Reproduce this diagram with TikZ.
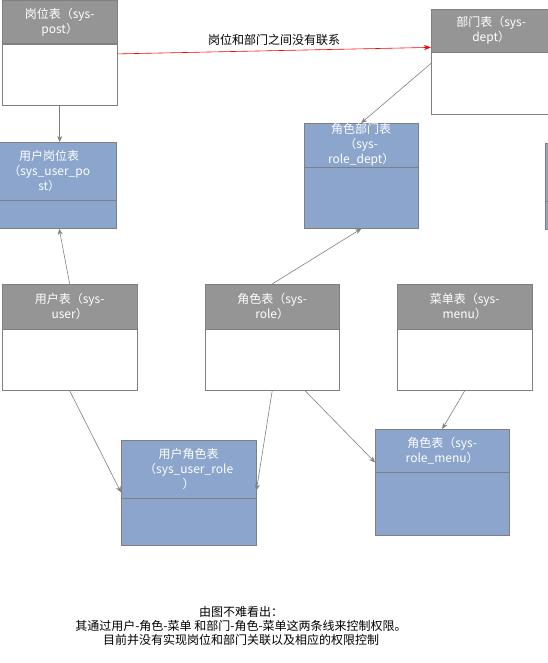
\documentclass[tikz,border=0pt]{standalone}
\usepackage{fontspec}
\newfontfamily\cjk{Noto Sans CJK SC}
\usetikzlibrary{arrows.meta,positioning,calc}
\definecolor{LineGray}{HTML}{808080}
\definecolor{HeadGray}{HTML}{959595}
\definecolor{LinkBlue}{HTML}{8BA5CC}
\tikzset{
  tblhead/.style={draw=LineGray,fill=HeadGray,text=white,anchor=north west,align=center,inner sep=0pt,font=\cjk\fontsize{12}{15}\selectfont},
  tblbody/.style={draw=LineGray,fill=white,inner sep=0pt},
  linkhead/.style={tblhead,fill=LinkBlue},
  linkbody/.style={tblbody,fill=LinkBlue},
  link/.style={-{Stealth[length=6pt,width=5pt]},line width=0.6pt,draw=LineGray},
  nolink/.style={-{Stealth[length=7pt,width=5pt]},line width=0.6pt,draw=red}
}
\begin{document}
\begin{tikzpicture}[x=1pt,y=-1pt]
\useasboundingbox (0,0) rectangle (548,663);
\clip (0,0) rectangle (548,663);
% tables
\node[tblhead,minimum width=115pt,minimum height=43pt] (posth) at (2,0.5) {岗位表（sys-\\post）};
\node[tblbody,below=0pt of posth,minimum width=115pt,minimum height=61pt] (postb) {};
\node[tblhead,minimum width=120pt,minimum height=43pt] (depth) at (431,9) {部门表（sys-\\dept）};
\node[tblbody,below=0pt of depth,minimum width=120pt,minimum height=62pt] (deptb) {};
\node[linkhead,minimum width=134pt,minimum height=58pt] (uposth) at (-18,142) {用户岗位表\\（sys\_user\_po\\st）};
\node[linkbody,below=0pt of uposth,minimum width=134pt,minimum height=28pt] (upostb) {};
\node[linkhead,minimum width=114pt,minimum height=44pt] (rdepth) at (304,123) {角色部门表\\（sys-\\role\_dept）};
\node[linkbody,below=0pt of rdepth,minimum width=114pt,minimum height=61pt] (rdeptb) {};
\node[linkhead,minimum width=134pt,minimum height=58pt] (xtrah) at (545,143) {};
\node[linkbody,below=0pt of xtrah,minimum width=134pt,minimum height=28pt] (xtrab) {};
\node[tblhead,minimum width=135pt,minimum height=45pt] (userh) at (2,284) {用户表（sys-\\user）};
\node[tblbody,below=0pt of userh,minimum width=135pt,minimum height=61pt] (userb) {};
\node[tblhead,minimum width=134pt,minimum height=45pt] (roleh) at (205,284) {角色表（sys-\\role）};
\node[tblbody,below=0pt of roleh,minimum width=134pt,minimum height=61pt] (roleb) {};
\node[tblhead,minimum width=135pt,minimum height=45pt] (menuh) at (397,284) {菜单表（sys-\\menu）};
\node[tblbody,below=0pt of menuh,minimum width=135pt,minimum height=61pt] (menub) {};
\node[linkhead,minimum width=135pt,minimum height=58pt] (urh) at (121,440) {用户角色表\\（sys\_user\_role\\）};
\node[linkbody,below=0pt of urh,minimum width=135pt,minimum height=47pt] (urb) {};
\node[linkhead,minimum width=134pt,minimum height=43pt] (rmh) at (375,429) {角色表（sys-\\role\_menu）};
\node[linkbody,below=0pt of rmh,minimum width=134pt,minimum height=63pt] (rmb) {};
% connectors
\draw[nolink] ($(postb.north east)+(0,10)$) -- node[above=1pt,font=\cjk\fontsize{12}{15}\selectfont]{岗位和部门之间没有联系} ($(depth.south west)+(0,-5)$);
\draw[link] (postb.south) -- (postb.south |- uposth.north);
\draw[link] (userh.north) -- ($(upostb.south)+(10,0)$);
\draw[link] ($(deptb.north west)+(0,11)$) -- (rdepth.north);
\draw[link] (roleh.north) -- (rdeptb.south);
\draw[link] (userb.south) -- ($(urh.south west)+(0,-6)$);
\draw[link] (roleb.south) -- ($(urh.south east)+(0,-8)$);
\draw[link] ($(roleb.south)+(33,0)$) -- ($(rmh.south west)+(0,-10)$);
\draw[link] (menub.south) -- (rmh.north);
% note
\node[font=\cjk\fontsize{12}{14}\selectfont,align=center] (note) at (241,626) {由图不难看出：\\其通过用户-角色-菜单\ 和部门-角色-菜单这两条线来控制权限。\\目前并没有实现岗位和部门关联以及相应的权限控制};
\end{tikzpicture}
\end{document}
